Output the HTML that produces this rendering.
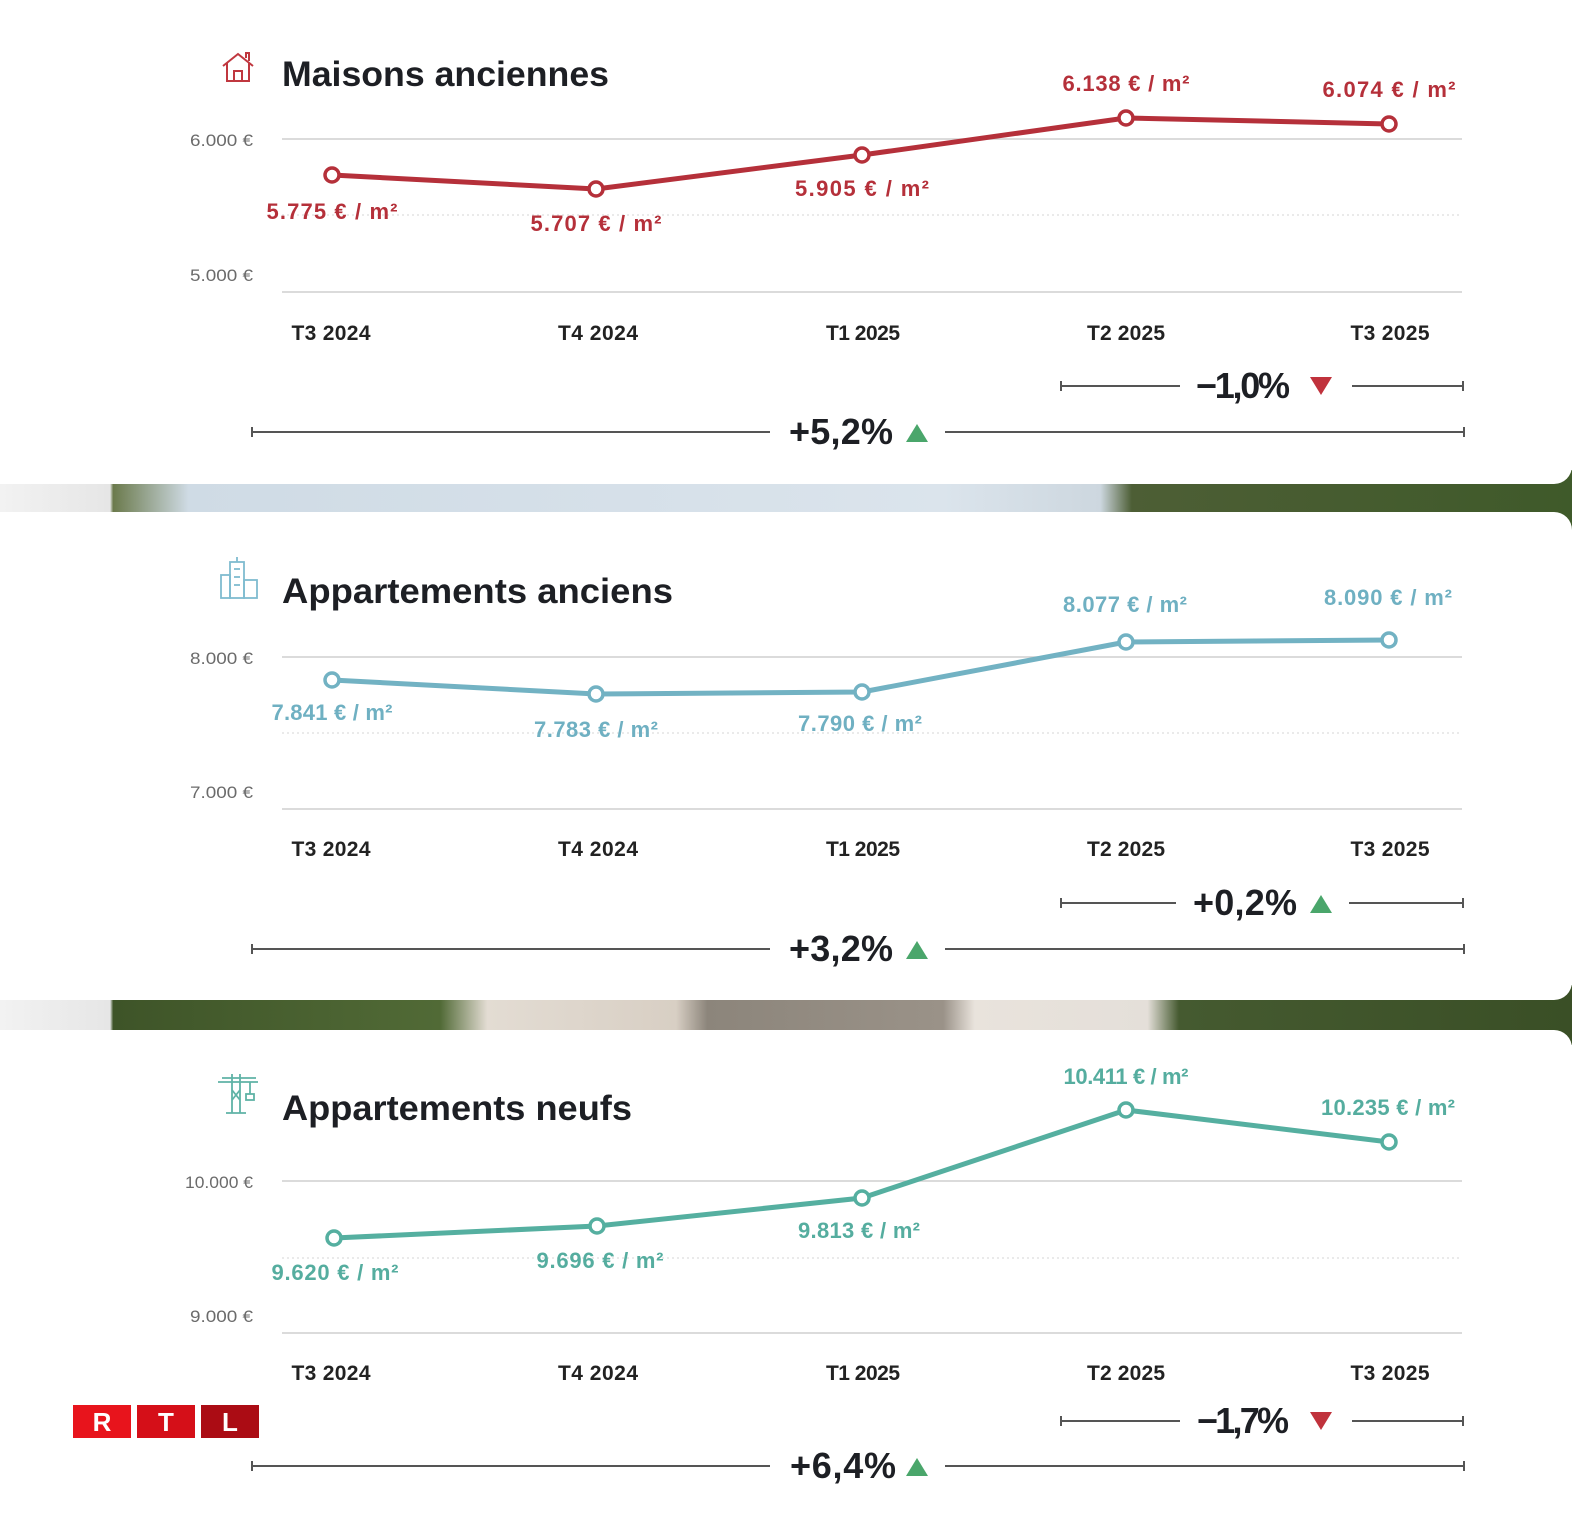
<!DOCTYPE html>
<html><head><meta charset="utf-8">
<style>
html,body{margin:0;padding:0;background:#fff;}
svg{display:block;}
text{font-family:"Liberation Sans",sans-serif;}
.t{font-weight:bold;font-size:35px;fill:#1d1f24;}
.y{font-size:17px;fill:#6b6b6b}
.x{font-weight:bold;font-size:21px;fill:#222;}
.p{font-weight:bold;font-size:36px;fill:#1d1f24}
.v{font-weight:bold;font-size:22px;}
</style></head><body>
<svg width="1572" height="1515" viewBox="0 0 1572 1515" xmlns="http://www.w3.org/2000/svg">
<defs>
<linearGradient id="g1" x1="0" x2="1" y1="0" y2="0">
<stop offset="0" stop-color="#f2f2f2"/><stop offset="0.07" stop-color="#e6e6e6"/>
<stop offset="0.072" stop-color="#6b7a4c"/><stop offset="0.12" stop-color="#cfdbe5"/>
<stop offset="0.6" stop-color="#dbe4ec"/><stop offset="0.7" stop-color="#cdd7df"/>
<stop offset="0.72" stop-color="#4d5e35"/><stop offset="1" stop-color="#3f5a2a"/></linearGradient>
<linearGradient id="g2" x1="0" x2="1" y1="0" y2="0">
<stop offset="0" stop-color="#f2f2f2"/><stop offset="0.07" stop-color="#e6e6e6"/>
<stop offset="0.072" stop-color="#3e5428"/><stop offset="0.28" stop-color="#516a36"/>
<stop offset="0.31" stop-color="#e3dcd3"/><stop offset="0.43" stop-color="#d8cfc4"/>
<stop offset="0.45" stop-color="#8c857b"/><stop offset="0.6" stop-color="#9a9288"/>
<stop offset="0.62" stop-color="#e9e3dc"/><stop offset="0.73" stop-color="#e4dfd9"/>
<stop offset="0.75" stop-color="#455a30"/><stop offset="1" stop-color="#3a4f26"/></linearGradient>
</defs>
<rect x="0" y="470" width="1572" height="60" fill="url(#g1)"/>
<rect x="0" y="985" width="1572" height="60" fill="url(#g2)"/>
<path d="M0 0H1572V466a18 18 0 0 1-18 18H0Z" fill="#fff"/>
<path d="M0 512H1554a18 18 0 0 1 18 18V982a18 18 0 0 1-18 18H0Z" fill="#fff"/>
<path d="M0 1030H1554a18 18 0 0 1 18 18V1515H0Z" fill="#fff"/>

<!-- Chart 1 -->
<g>
<path d="M223 66 L238 54 L253 66 M227 63 V81 H249 V63 M234 81 V71 H242 V81 M246 58 V53 H249 V61" fill="none" stroke="#c0373f" stroke-width="2"/>
<text class="t" x="282" y="86" textLength="327" lengthAdjust="spacingAndGlyphs">Maisons anciennes</text>
<text class="y" x="190" y="146" textLength="63" lengthAdjust="spacingAndGlyphs">6.000 €</text>
<text class="y" x="190" y="281" textLength="63" lengthAdjust="spacingAndGlyphs">5.000 €</text>
<line x1="282" y1="139" x2="1462" y2="139" stroke="#cfcfcf" stroke-width="1.5"/>
<line x1="282" y1="215" x2="1462" y2="215" stroke="#ddd" stroke-width="1.2" stroke-dasharray="2 3"/>
<line x1="282" y1="292" x2="1462" y2="292" stroke="#cfcfcf" stroke-width="1.5"/>
<polyline points="332,175 596,189 862,155 1126,118 1389,124" fill="none" stroke="#b5303a" stroke-width="5" stroke-linejoin="round"/>
<g fill="#fff" stroke="#b5303a" stroke-width="3.5"><circle cx="332" cy="175" r="7"/><circle cx="596" cy="189" r="7"/><circle cx="862" cy="155" r="7"/><circle cx="1126" cy="118" r="7"/><circle cx="1389" cy="124" r="7"/></g>
<g class="v" fill="#b5303a" text-anchor="middle" lengthAdjust="spacingAndGlyphs">
<text x="332" y="219" textLength="131">5.775 € / m²</text><text x="596" y="231" textLength="131">5.707 € / m²</text><text x="862" y="196" textLength="134">5.905 € / m²</text><text x="1126" y="91" textLength="127">6.138 € / m²</text><text x="1389" y="97" textLength="133">6.074 € / m²</text></g>
<g class="x" text-anchor="middle"><text x="331" y="340" textLength="79">T3 2024</text><text x="598" y="340" textLength="80">T4 2024</text><text x="863" y="340" textLength="74">T1 2025</text><text x="1126" y="340" textLength="78">T2 2025</text><text x="1390" y="340" textLength="79">T3 2025</text></g>
<g stroke="#555" stroke-width="2"><line x1="1060" y1="386" x2="1180" y2="386"/><line x1="1352" y1="386" x2="1463" y2="386"/><line x1="1061" y1="381" x2="1061" y2="391"/><line x1="1463" y1="381" x2="1463" y2="391"/>
<line x1="252" y1="432" x2="770" y2="432"/><line x1="945" y1="432" x2="1464" y2="432"/><line x1="252" y1="427" x2="252" y2="437"/><line x1="1464" y1="427" x2="1464" y2="437"/></g>
<text class="p" x="1243" y="398" text-anchor="middle" textLength="94">−1,0%</text><path d="M1310 377H1332L1321 395Z" fill="#c0323c"/>
<text class="p" x="841" y="444" text-anchor="middle" textLength="104">+5,2%</text><path d="M906 442H928L917 424Z" fill="#4aa66b"/>
</g>

<!-- Chart 2 -->
<g>
<g fill="none" stroke="#7fbcd0" stroke-width="1.8"><rect x="230" y="562" width="14" height="36"/><rect x="221" y="575" width="9" height="23"/><rect x="244" y="580" width="13" height="18"/><line x1="237" y1="557" x2="237" y2="562"/><line x1="234" y1="569" x2="240" y2="569"/><line x1="234" y1="577" x2="240" y2="577"/><line x1="234" y1="585" x2="240" y2="585"/></g>
<text class="t" x="282" y="603" textLength="391" lengthAdjust="spacingAndGlyphs">Appartements anciens</text>
<text class="y" x="190" y="664" textLength="63" lengthAdjust="spacingAndGlyphs">8.000 €</text>
<text class="y" x="190" y="798" textLength="63" lengthAdjust="spacingAndGlyphs">7.000 €</text>
<line x1="282" y1="657" x2="1462" y2="657" stroke="#cfcfcf" stroke-width="1.5"/>
<line x1="282" y1="733" x2="1462" y2="733" stroke="#ddd" stroke-width="1.2" stroke-dasharray="2 3"/>
<line x1="282" y1="809" x2="1462" y2="809" stroke="#cfcfcf" stroke-width="1.5"/>
<polyline points="332,680 596,694 862,692 1126,642 1389,640" fill="none" stroke="#72b2c3" stroke-width="5" stroke-linejoin="round"/>
<g fill="#fff" stroke="#72b2c3" stroke-width="3.5"><circle cx="332" cy="680" r="7"/><circle cx="596" cy="694" r="7"/><circle cx="862" cy="692" r="7"/><circle cx="1126" cy="642" r="7"/><circle cx="1389" cy="640" r="7"/></g>
<g class="v" fill="#6fb0c2" text-anchor="middle">
<text x="332" y="720" textLength="121">7.841 € / m²</text><text x="596" y="737" textLength="124">7.783 € / m²</text><text x="860" y="731" textLength="124">7.790 € / m²</text><text x="1125" y="612" textLength="124">8.077 € / m²</text><text x="1388" y="605" textLength="128">8.090 € / m²</text></g>
<g class="x" text-anchor="middle"><text x="331" y="856" textLength="79">T3 2024</text><text x="598" y="856" textLength="80">T4 2024</text><text x="863" y="856" textLength="74">T1 2025</text><text x="1126" y="856" textLength="78">T2 2025</text><text x="1390" y="856" textLength="79">T3 2025</text></g>
<g stroke="#555" stroke-width="2"><line x1="1060" y1="903" x2="1176" y2="903"/><line x1="1349" y1="903" x2="1463" y2="903"/><line x1="1061" y1="898" x2="1061" y2="908"/><line x1="1463" y1="898" x2="1463" y2="908"/>
<line x1="252" y1="949" x2="770" y2="949"/><line x1="945" y1="949" x2="1464" y2="949"/><line x1="252" y1="944" x2="252" y2="954"/><line x1="1464" y1="944" x2="1464" y2="954"/></g>
<text class="p" x="1245" y="915" text-anchor="middle" textLength="104">+0,2%</text><path d="M1310 913H1332L1321 895Z" fill="#4aa66b"/>
<text class="p" x="841" y="961" text-anchor="middle" textLength="104">+3,2%</text><path d="M906 959H928L917 941Z" fill="#4aa66b"/>
</g>

<!-- Chart 3 -->
<g>
<g fill="none" stroke="#5fb3a6" stroke-width="1.8"><line x1="218" y1="1082" x2="258" y2="1082"/><line x1="222" y1="1078" x2="256" y2="1078"/><line x1="232" y1="1074" x2="232" y2="1113"/><line x1="240" y1="1074" x2="240" y2="1113"/><line x1="232" y1="1090" x2="240" y2="1100"/><line x1="240" y1="1090" x2="232" y2="1100"/><line x1="250" y1="1082" x2="250" y2="1094"/><rect x="246" y="1094" width="8" height="6"/><line x1="226" y1="1113" x2="246" y2="1113"/></g>
<text class="t" x="282" y="1120" textLength="350" lengthAdjust="spacingAndGlyphs">Appartements neufs</text>
<text class="y" x="185" y="1188" textLength="68" lengthAdjust="spacingAndGlyphs">10.000 €</text>
<text class="y" x="190" y="1322" textLength="63" lengthAdjust="spacingAndGlyphs">9.000 €</text>
<line x1="282" y1="1181" x2="1462" y2="1181" stroke="#cfcfcf" stroke-width="1.5"/>
<line x1="282" y1="1258" x2="1462" y2="1258" stroke="#ddd" stroke-width="1.2" stroke-dasharray="2 3"/>
<line x1="282" y1="1333" x2="1462" y2="1333" stroke="#cfcfcf" stroke-width="1.5"/>
<polyline points="334,1238 597,1226 862,1198 1126,1110 1389,1142" fill="none" stroke="#55afa0" stroke-width="5" stroke-linejoin="round"/>
<g fill="#fff" stroke="#55afa0" stroke-width="3.5"><circle cx="334" cy="1238" r="7"/><circle cx="597" cy="1226" r="7"/><circle cx="862" cy="1198" r="7"/><circle cx="1126" cy="1110" r="7"/><circle cx="1389" cy="1142" r="7"/></g>
<g class="v" fill="#55ad9f" text-anchor="middle">
<text x="335" y="1280" textLength="127">9.620 € / m²</text><text x="600" y="1268" textLength="127">9.696 € / m²</text><text x="859" y="1238" textLength="122">9.813 € / m²</text><text x="1126" y="1084" textLength="125">10.411 € / m²</text><text x="1388" y="1115" textLength="134">10.235 € / m²</text></g>
<g class="x" text-anchor="middle"><text x="331" y="1380" textLength="79">T3 2024</text><text x="598" y="1380" textLength="80">T4 2024</text><text x="863" y="1380" textLength="74">T1 2025</text><text x="1126" y="1380" textLength="78">T2 2025</text><text x="1390" y="1380" textLength="79">T3 2025</text></g>
<g stroke="#555" stroke-width="2"><line x1="1060" y1="1421" x2="1180" y2="1421"/><line x1="1352" y1="1421" x2="1463" y2="1421"/><line x1="1061" y1="1416" x2="1061" y2="1426"/><line x1="1463" y1="1416" x2="1463" y2="1426"/>
<line x1="252" y1="1466" x2="770" y2="1466"/><line x1="945" y1="1466" x2="1464" y2="1466"/><line x1="252" y1="1461" x2="252" y2="1471"/><line x1="1464" y1="1461" x2="1464" y2="1471"/></g>
<text class="p" x="1243" y="1433" text-anchor="middle" textLength="92">−1,7%</text><path d="M1310 1412H1332L1321 1430Z" fill="#c0323c"/>
<text class="p" x="843" y="1478" text-anchor="middle" textLength="106">+6,4%</text><path d="M906 1476H928L917 1458Z" fill="#4aa66b"/>
</g>

<!-- RTL logo -->
<rect x="73" y="1405" width="58" height="33" fill="#e8141c"/>
<rect x="137" y="1405" width="58" height="33" fill="#d50f18"/>
<rect x="201" y="1405" width="58" height="33" fill="#ab0c14"/>
<g font-family="Liberation Sans,sans-serif" font-weight="bold" font-size="26" fill="#fff" text-anchor="middle"><text x="102" y="1431">R</text><text x="166" y="1431">T</text><text x="230" y="1431">L</text></g>
</svg>
</body></html>
